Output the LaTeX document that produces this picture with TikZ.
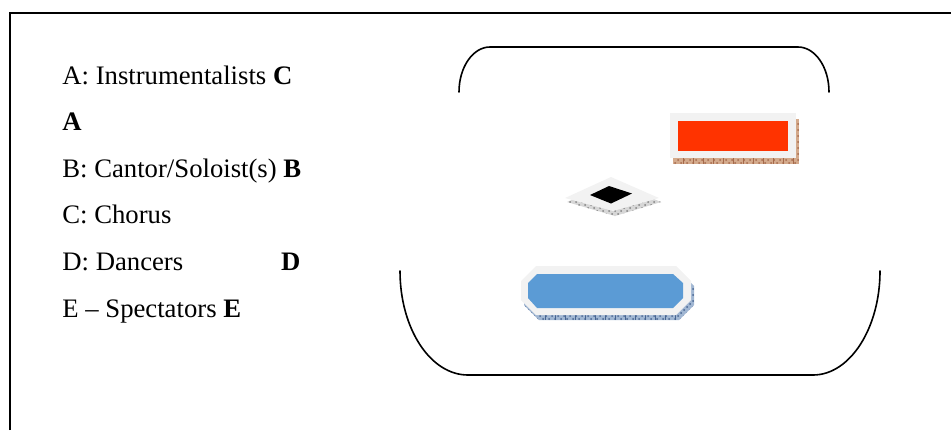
\documentclass[tikz,border=0pt]{standalone}
\usepackage{fontspec}
\setmainfont{Liberation Serif}
\usepackage{xcolor}
\usetikzlibrary{positioning,
                patterns}
\definecolor{stagegray}{HTML}{F2F2F2}
\definecolor{chorusred}{HTML}{FF3300}
\definecolor{spectblue}{HTML}{5B9BD5}
\definecolor{brickshade}{RGB}{212,170,140}
\definecolor{brickline}{RGB}{165,105,75}
\definecolor{blueshade}{RGB}{160,182,210}
\definecolor{blueline}{RGB}{70,100,145}
\definecolor{greyshade}{RGB}{215,215,215}
\newcommand{\brickticks}[4]{%
    \foreach \tx in {#1}{% vertical strokes of the shadow strip
      \draw[#4, line width=0.3pt] (\tx,#2) -- (\tx,#3);
    }
}
\tikzstyle{legend} = [anchor=base west, inner sep=0pt, font=\fontsize{13.35}{16}\selectfont, text height=9.5pt, text depth=3pt]
\tikzstyle{arena} = [line width=0.8pt, line cap=round]
\begin{document}
\begin{tikzpicture}[x=0.5pt, y=-0.5pt]
    \useasboundingbox (0,0) rectangle (951,430);
    \draw[line width=1pt] (10.3,430) -- (10.3,13.3) -- (951,13.3);

    \node[legend] (la) at (62,84) {A: Instrumentalists \textbf{C}};
    \node[legend, below=10.4pt of la.south west, anchor=north west] (lb) {\textbf{A}};
    \node[legend, below=10.4pt of lb.south west, anchor=north west] (lc) {B: Cantor/Soloist(s) \textbf{B}};
    \node[legend, below=10.4pt of lc.south west, anchor=north west] (ld) {C: Chorus};
    \node[legend, below=10.4pt of ld.south west, anchor=north west] (le) {D: Dancers};
    \node[legend, base right=48.6pt of le] (led) {\textbf{D}};
    \node[legend, below=10.4pt of le.south west, anchor=north west] (lf) {E -- Spectators \textbf{E}};

    % arena
    \draw[arena] (459,92) .. controls (459,67) and (473,47) .. (490,47) -- (798,47) .. controls (815,47) and (829,67) .. (829,92);
    \draw[arena] (400,271) .. controls (400,328) and (430,375) .. (468,375) -- (813,375) .. controls (850,375) and (880,328) .. (880,271);

    % red block
    \fill[brickshade] (673,119) rectangle (799,164);
    \fill[pattern=crosshatch dots, pattern color=brickline] (673,119) rectangle (799,164);
    \brickticks{683,693,...,793}{158}{164}{brickline}
    \fill[stagegray] (670,113) rectangle (796,158);
    \fill[chorusred] (678,121) rectangle (788,151);

    % black diamond
    \fill[greyshade] (567,202) -- (613,182) -- (661,202) -- (615,216) -- cycle;
    \fill[pattern=crosshatch dots, pattern color=gray] (567,202) -- (613,182) -- (661,202) -- (615,216) -- cycle;
    \fill[stagegray] (565,198) -- (611,177) -- (659,198) -- (613,211) -- cycle;
    \fill[black] (590,195) -- (609,186) -- (632,193.5) -- (611,203.5) -- cycle;

    % blue octagon
    \fill[blueshade] (539,271) -- (679,271) -- (694,286) -- (694,305) -- (679,320) -- (539,320) -- (524,305) -- (524,286) -- cycle;
    \fill[pattern=crosshatch dots, pattern color=blueline] (539,271) -- (679,271) -- (694,286) -- (694,305) -- (679,320) -- (539,320) -- (524,305) -- (524,286) -- cycle;
    \brickticks{545,555,...,675}{315}{320}{blueline}
    \fill[stagegray] (536,266) -- (676,266) -- (691,281) -- (691,300) -- (676,315) -- (536,315) -- (521,300) -- (521,281) -- cycle;
    \fill[spectblue] (537,274) -- (673,274) -- (683,283) -- (683,298) -- (673,308) -- (537,308) -- (528,298) -- (528,283) -- cycle;
\end{tikzpicture}
\end{document}
